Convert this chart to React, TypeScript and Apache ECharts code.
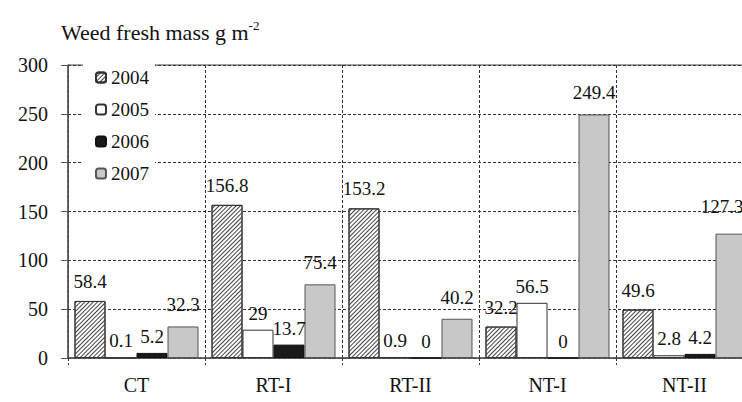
import React, { useEffect, useRef } from "react";
import * as echarts from "echarts";

const categories = ["CT", "RT-I", "RT-II", "NT-I", "NT-II"];
const years = ["2004", "2005", "2006", "2007"];
const s2004 = [58.4, 156.8, 153.2, 32.2, 49.6];
const s2005 = [0.1, 29, 0.9, 56.5, 2.8];
const s2006 = [5.2, 13.7, 0, 0, 4.2];
const s2007 = [32.3, 75.4, 40.2, 249.4, 127.3];

const FONT = "Liberation Serif";

export default function App() {
  const ref = useRef<HTMLDivElement>(null);
  useEffect(() => {
    if (!ref.current) return;
    const chart = echarts.init(ref.current, null, { renderer: "svg" });
    const mkLabel = (distance: number) => ({
      show: true,
      position: "top" as const,
      distance,
      fontFamily: FONT,
      fontSize: 19,
      color: "#111",
    });
    const mk = (name: string, data: any[], itemStyle: any, distance: number) => ({
      name,
      type: "bar",
      data,
      barWidth: 31,
      barGap: "0%",
      itemStyle,
      label: mkLabel(distance),
      emphasis: { disabled: true },
    });
    // the last label of 2007 sits at the clipped right edge; nudge it left as in the source
    const d2007 = s2007.map((v, i) =>
      i === s2007.length - 1 ? { value: v, label: { offset: [-9, -6] } } : v
    );
    chart.setOption({
      animation: false,
      backgroundColor: "#fff",
      textStyle: { fontFamily: FONT },
      title: {
        text: "{a|Weed fresh mass g m}{b|-2}",
        left: 56,
        top: 14,
        textStyle: {
          fontWeight: "normal",
          fontFamily: FONT,
          rich: {
            a: { fontFamily: FONT, fontWeight: "normal", fontSize: 22, color: "#111", lineHeight: 26 },
            b: { fontFamily: FONT, fontWeight: "normal", fontSize: 13, color: "#111", lineHeight: 26, padding: [0, 0, 14, 0] },
          },
        },
      },
      legend: {
        orient: "vertical",
        left: 83,
        top: 64,
        itemWidth: 10,
        itemHeight: 10,
        itemGap: 13,
        padding: [4, 6, 4, 12],
        backgroundColor: "#fff",
        data: years,
        textStyle: { fontFamily: FONT, fontSize: 19, color: "#111" },
      },
      grid: {
        left: 68,
        top: 65,
        right: 7,
        bottom: 44,
        show: true,
        borderColor: "#444",
        borderWidth: 1,
        backgroundColor: "transparent",
      },
      xAxis: {
        type: "category",
        data: categories,
        boundaryGap: true,
        axisLine: { show: true, lineStyle: { color: "#555", width: 1.5 } },
        axisTick: { show: true, interval: 0, length: 7, lineStyle: { color: "#333", type: [3, 2] } },
        splitLine: { show: true, interval: 0, lineStyle: { color: "#333", type: [3, 2], width: 1 } },
        axisLabel: { fontFamily: FONT, fontSize: 20, color: "#111", margin: 17 },
      },
      yAxis: {
        type: "value",
        min: 0,
        max: 300,
        interval: 50,
        axisLine: { show: true, lineStyle: { color: "#555", width: 1.5 } },
        axisTick: { show: true, length: 7, lineStyle: { color: "#555" } },
        splitLine: { show: true, lineStyle: { color: "#333", type: [3, 2], width: 1 } },
        axisLabel: { fontFamily: FONT, fontSize: 20, color: "#111", margin: 20 },
      },
      series: [
        mk("2004", s2004, {
          color: "#fff",
          borderColor: "#333",
          borderWidth: 1,
          decal: {
            symbol: "rect",
            symbolSize: 1,
            color: "#444",
            dashArrayX: [1, 0],
            dashArrayY: [1, 2],
            rotation: -Math.PI / 4,
          },
        }, 10),
        mk("2005", s2005, { color: "#fff", borderColor: "#333", borderWidth: 1 }, 7),
        mk("2006", s2006, { color: "#1a1a1a", borderColor: "#111", borderWidth: 1 }, 7),
        mk("2007", d2007, { color: "#c8c8c8", borderColor: "#555", borderWidth: 1 }, 12),
      ],
    });
    return () => chart.dispose();
  }, []);
  return (
    <div style={{ position: "fixed", left: 0, top: 0, width: 742, height: 402, overflow: "hidden" }}>
      <div ref={ref} style={{ width: 760, height: 402 }} />
    </div>
  );
}
